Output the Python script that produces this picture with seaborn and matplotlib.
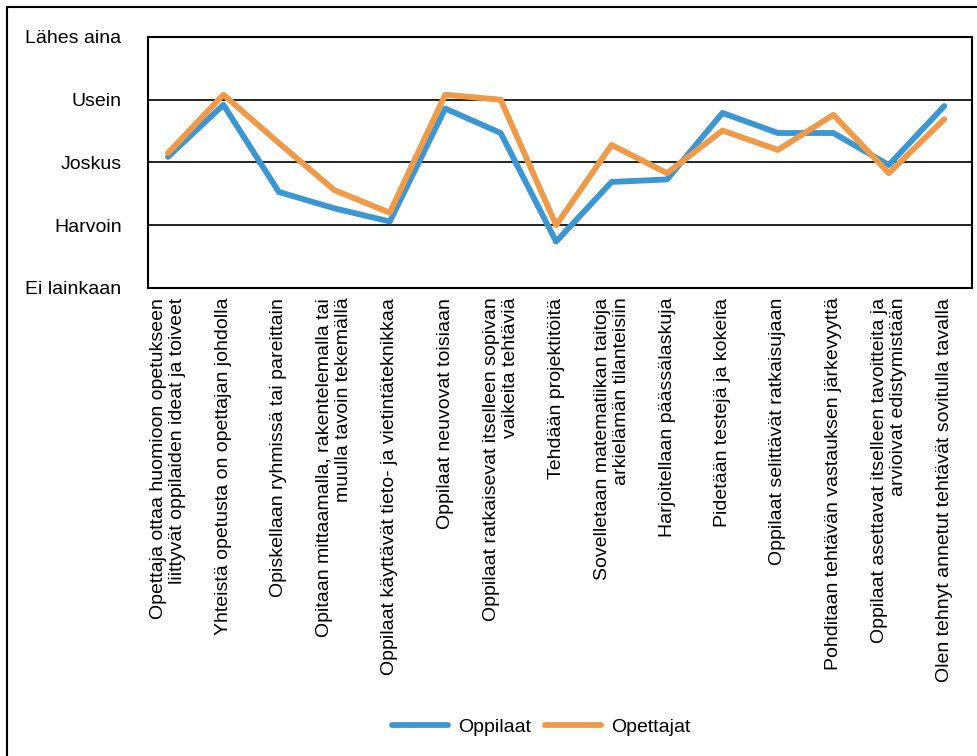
import matplotlib
matplotlib.use("Agg")
import matplotlib.pyplot as plt
from matplotlib.patches import Rectangle
import pandas as pd
import seaborn as sns

categories = [
    "Opettaja ottaa huomioon opetukseen\nliittyvät oppilaiden ideat ja toiveet",
    "Yhteistä opetusta on opettajan johdolla",
    "Opiskellaan ryhmissä tai pareittain",
    "Opitaan mittaamalla, rakentelemalla tai\nmuulla tavoin tekemällä",
    "Oppilaat käyttävät tieto- ja vietintäteknikkaa",
    "Oppilaat neuvovat toisiaan",
    "Oppilaat ratkaisevat itselleen sopivan\nvaikeita tehtäviä",
    "Tehdään projektitöitä",
    "Sovelletaan matematiikan taitoja\narkielämän tilanteisiin",
    "Harjoitellaan päässälaskuja",
    "Pidetään testejä ja kokeita",
    "Oppilaat selittävät ratkaisujaan",
    "Pohditaan tehtävän vastauksen järkevyyttä",
    "Oppilaat asettavat itselleen tavoitteita ja\narvioivat edistymistään",
    "Olen tehnyt annetut tehtävät sovitulla tavalla",
]

oppilaat = [3.09, 3.92, 2.53, 2.27, 2.06, 3.86, 3.47, 1.74, 2.69, 2.73,
            3.79, 3.47, 3.47, 2.96, 3.90]
opettajat = [3.15, 4.08, 3.31, 2.56, 2.20, 4.08, 4.00, 2.00, 3.28, 2.83,
             3.51, 3.20, 3.76, 2.83, 3.69]

scale_labels = ["Ei lainkaan", "Harvoin", "Joskus", "Usein", "Lähes aina"]
scale_values = [1, 2, 3, 4, 5]

series_names = ["Oppilaat", "Opettajat"]
series_colors = ["#3b97d3", "#f09a47"]

df = pd.DataFrame({
    "pos": list(range(len(categories))) * 2,
    "value": oppilaat + opettajat,
    "series": [series_names[0]] * len(categories) + [series_names[1]] * len(categories),
})

sns.set_theme(style="white")
plt.rcParams["font.family"] = ["Liberation Sans", "DejaVu Sans"]
plt.rcParams["text.color"] = "black"

fs = 14

fig = plt.figure(figsize=(9.78, 7.56), dpi=100)
ax = fig.add_axes([148 / 978, 1 - 288 / 756, (972 - 148) / 978, (288 - 37) / 756])

sns.lineplot(data=df, x="pos", y="value", hue="series",
             palette=dict(zip(series_names, series_colors)),
             linewidth=4.2, ax=ax, sort=False)

ax.set_xlim(-0.36, 14.5)
ax.set_ylim(1, 5)
ax.set_yticks(scale_values)
ax.set_yticklabels(scale_labels, fontsize=fs, color="black")
ax.set_xticks(range(len(categories)))
ax.set_xticklabels(categories, rotation=90, fontsize=fs, color="black",
                   va="top", ha="center", multialignment="right",
                   linespacing=1.15)
ax.tick_params(axis="y", length=0, pad=19)
ax.tick_params(axis="x", length=0, pad=7)
ax.set_xlabel("")
ax.set_ylabel("")

for v in scale_values[1:-1]:
    ax.axhline(v, color="#111111", lw=1.3, zorder=0)

for side in ["left", "right", "top", "bottom"]:
    ax.spines[side].set_visible(True)
    ax.spines[side].set_color("black")
    ax.spines[side].set_linewidth(1.5)

leg = ax.legend(loc="center", bbox_to_anchor=(541 / 978, 0.038),
                bbox_transform=fig.transFigure, ncol=2, frameon=False,
                fontsize=fs, handlelength=2.9, columnspacing=0.7,
                handletextpad=0.5)
for line in leg.get_lines():
    line.set_linewidth(4.2)
    line.set_solid_capstyle("round")
for t in leg.get_texts():
    t.set_color("black")

fig.patches.append(Rectangle((7 / 978, -0.1), 1.2, (749 / 756) + 0.1,
                             transform=fig.transFigure, fill=False,
                             edgecolor="black", lw=1.5))

fig.savefig("out.png", dpi=100)
